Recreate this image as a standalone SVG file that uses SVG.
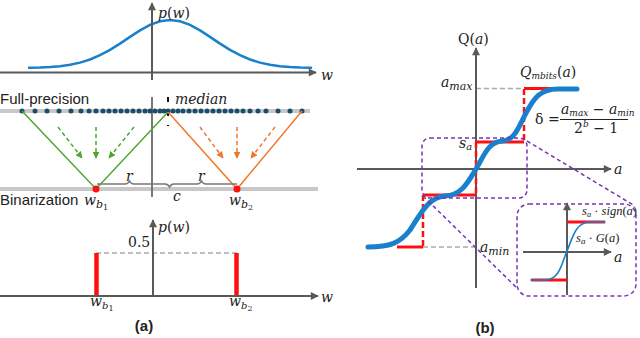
<svg xmlns="http://www.w3.org/2000/svg" width="640" height="338" viewBox="0 0 640 338">
<style>
.ax{stroke:#595959;stroke-width:2;fill:none}
.m{font-family:"DejaVu Serif",serif;fill:#222;font-size:14px}
.t{font-family:"Liberation Serif","Times New Roman",serif;fill:#222;font-size:12.5px}
.i{font-style:italic}
.sans{font-family:"Liberation Sans",Arial,sans-serif;fill:#222;font-size:15px}
.bold{font-family:"Liberation Sans",Arial,sans-serif;font-weight:bold;fill:#222;font-size:15px}
.bar{stroke:#c8c8c8;stroke-width:4}
.gd{stroke:#aaaaaa;stroke-width:1.3;stroke-dasharray:5,3;fill:none}
.red{stroke:#ff1010;stroke-width:3;fill:none}
.redd{stroke:#ff1010;stroke-width:2.5;stroke-dasharray:6,3;fill:none}
.blue{stroke:#1a80cc;fill:none;stroke-linecap:round}
.pur{stroke:#7a35b0;stroke-width:1.5;stroke-dasharray:4,3;fill:none}
.grn{stroke:#4ea72e;stroke-width:1.5;fill:none}
.org{stroke:#f0782d;stroke-width:1.5;fill:none}
.dot{fill:#1b4f69}
</style>
<defs>
<marker id="ah" viewBox="0 0 10 10" refX="9" refY="5" markerWidth="9" markerHeight="8" markerUnits="userSpaceOnUse" orient="auto"><path d="M0,0 L10,5 L0,10 z" fill="#595959"/></marker>
<marker id="ahg" viewBox="0 0 10 10" refX="9" refY="5" markerWidth="7" markerHeight="7" markerUnits="userSpaceOnUse" orient="auto"><path d="M0,0 L10,5 L0,10 z" fill="#4ea72e"/></marker>
<marker id="aho" viewBox="0 0 10 10" refX="9" refY="5" markerWidth="7" markerHeight="7" markerUnits="userSpaceOnUse" orient="auto"><path d="M0,0 L10,5 L0,10 z" fill="#f0782d"/></marker>
</defs>

<!-- Panel (a) top: Gaussian -->
<g id="top-plot">
<polyline class="blue" stroke-width="2.5" points="29,67.8 40,67.5 50,67 60,66.2 70,64.8 80,62.6 90,59.5 100,55.2 110,49.9 120,43.6 130,36.9 140,30.4 150,24.9 160,21.3 170,20 180,21.3 190,24.9 200,30.4 210,36.9 220,43.6 230,49.9 240,55.2 250,59.5 260,62.6 270,64.8 280,66.2 290,67 300,67.5 311,67.8"/>
<line class="ax" x1="0" y1="72.5" x2="316" y2="72.5" marker-end="url(#ah)"/>
<line class="ax" x1="152" y1="80" x2="152" y2="3" marker-end="url(#ah)"/>
<text class="m" x="158" y="18" font-size="15.5"><tspan class="i">p</tspan>(<tspan class="i">w</tspan>)</text>
<text class="m i" x="321" y="80" font-size="15.5">w</text>
</g>

<!-- Panel (a) middle -->
<g id="middle">
<line class="bar" x1="0" y1="111" x2="310" y2="111"/>
<line class="bar" x1="0" y1="189" x2="318" y2="189"/>
<text class="sans" x="0" y="104">Full-precision</text>
<text class="sans" x="0" y="205">Binarization</text>
<line x1="152" y1="97" x2="152" y2="197" stroke="#777" stroke-width="2"/>
<g id="dots">
<circle class="dot" cx="22" cy="111" r="2.5"/><circle class="dot" cx="35" cy="111" r="2.5"/><circle class="dot" cx="47" cy="111" r="2.5"/><circle class="dot" cx="59" cy="111" r="2.5"/><circle class="dot" cx="71" cy="111" r="2.5"/><circle class="dot" cx="81" cy="111" r="2.5"/><circle class="dot" cx="89" cy="111" r="2.5"/><circle class="dot" cx="96" cy="111" r="2.5"/><circle class="dot" cx="103" cy="111" r="2.5"/><circle class="dot" cx="109" cy="111" r="2.5"/><circle class="dot" cx="115" cy="111" r="2.5"/><circle class="dot" cx="121" cy="111" r="2.5"/><circle class="dot" cx="127" cy="111" r="2.5"/><circle class="dot" cx="133" cy="111" r="2.5"/><circle class="dot" cx="139" cy="111" r="2.5"/><circle class="dot" cx="145" cy="111" r="2.5"/><circle class="dot" cx="150" cy="111" r="2.5"/><circle class="dot" cx="155" cy="111" r="2.5"/><circle class="dot" cx="160" cy="111" r="2.5"/><circle class="dot" cx="164" cy="111" r="2.5"/><circle class="dot" cx="168" cy="111" r="2.5"/>
<circle class="dot" cx="173" cy="111" r="2.5"/><circle class="dot" cx="178" cy="111" r="2.5"/><circle class="dot" cx="183" cy="111" r="2.5"/><circle class="dot" cx="189" cy="111" r="2.5"/><circle class="dot" cx="195" cy="111" r="2.5"/><circle class="dot" cx="201" cy="111" r="2.5"/><circle class="dot" cx="207" cy="111" r="2.5"/><circle class="dot" cx="213" cy="111" r="2.5"/><circle class="dot" cx="219" cy="111" r="2.5"/><circle class="dot" cx="225" cy="111" r="2.5"/><circle class="dot" cx="231" cy="111" r="2.5"/><circle class="dot" cx="237" cy="111" r="2.5"/><circle class="dot" cx="243" cy="111" r="2.5"/><circle class="dot" cx="250" cy="111" r="2.5"/><circle class="dot" cx="258" cy="111" r="2.5"/><circle class="dot" cx="266" cy="111" r="2.5"/><circle class="dot" cx="278" cy="111" r="2.5"/><circle class="dot" cx="290" cy="111" r="2.5"/><circle class="dot" cx="302" cy="111" r="2.5"/>
</g>
<line x1="168" y1="97" x2="168" y2="126" stroke="#111" stroke-width="2" stroke-dasharray="5,9"/>
<text class="m i" x="175" y="104">median</text>
<g id="mid-connectors">
<polyline class="grn" points="22,111 96,189 168,112"/>
<polyline class="org" points="168,112 237,189 302,111"/>
<line class="grn" x1="58" y1="127" x2="82" y2="158" stroke-dasharray="4,3" marker-end="url(#ahg)"/>
<line class="grn" x1="96" y1="127" x2="96" y2="158" stroke-dasharray="4,3" marker-end="url(#ahg)"/>
<line class="grn" x1="134" y1="127" x2="109" y2="158" stroke-dasharray="4,3" marker-end="url(#ahg)"/>
<line class="org" x1="200" y1="127" x2="223" y2="158" stroke-dasharray="4,3" marker-end="url(#aho)"/>
<line class="org" x1="237" y1="127" x2="237" y2="158" stroke-dasharray="4,3" marker-end="url(#aho)"/>
<line class="org" x1="275" y1="127" x2="251" y2="158" stroke-dasharray="4,3" marker-end="url(#aho)"/>
</g>
<path d="M97,184 H125 q3,0 4.5,-3 q1.5,3 4.5,3 H165 q3,0 4.5,3 q1.5,-3 4.5,-3 H197 q3,0 4.5,-3 q1.5,3 4.5,3 H237" fill="none" stroke="#777" stroke-width="1.6"/>
<circle cx="96" cy="189" r="3.5" fill="#ff1010"/>
<circle cx="237" cy="189" r="3.5" fill="#ff1010"/>
<text class="m i" x="126" y="181">r</text>
<text class="m i" x="198" y="181">r</text>
<text class="m i" x="173" y="201">c</text>
<text class="m" x="84" y="205" font-size="15"><tspan class="i">w</tspan><tspan class="i" font-size="11" dy="3">b</tspan><tspan font-size="8" dy="2">1</tspan></text>
<text class="m" x="229" y="205" font-size="15"><tspan class="i">w</tspan><tspan class="i" font-size="11" dy="3">b</tspan><tspan font-size="8" dy="2">2</tspan></text>
</g>

<!-- Panel (a) bottom -->
<g id="bottom-plot">
<line class="gd" x1="96" y1="253" x2="237" y2="253"/>
<line x1="96.5" y1="253" x2="96.5" y2="296" stroke="#ff1010" stroke-width="4.5"/>
<line x1="236.5" y1="253" x2="236.5" y2="296" stroke="#ff1010" stroke-width="4.5"/>
<line class="ax" x1="0" y1="296" x2="318" y2="296" marker-end="url(#ah)"/>
<line class="ax" x1="153" y1="296" x2="153" y2="220" marker-end="url(#ah)"/>
<text class="m" x="158" y="232" font-size="15.5"><tspan class="i">p</tspan>(<tspan class="i">w</tspan>)</text>
<text class="m" x="128" y="247">0.5</text>
<text class="m i" x="321" y="302" font-size="15.5">w</text>
<text class="m" x="90" y="306" font-size="14"><tspan class="i">w</tspan><tspan class="i" font-size="10" dy="3">b</tspan><tspan font-size="8" dy="2">1</tspan></text>
<text class="m" x="229" y="306" font-size="14"><tspan class="i">w</tspan><tspan class="i" font-size="10" dy="3">b</tspan><tspan font-size="8" dy="2">2</tspan></text>
<text class="bold" x="144" y="331" text-anchor="middle">(a)</text>
</g>

<!-- Panel (b) -->
<g id="quant-plot">
<line class="gd" x1="476" y1="88.5" x2="524" y2="88.5"/>
<line class="gd" x1="423" y1="247" x2="476" y2="247"/>
<line class="ax" x1="357" y1="169" x2="611" y2="169" marker-end="url(#ah)"/>
<line class="ax" x1="476" y1="288" x2="476" y2="48" marker-end="url(#ah)"/>
<polyline class="red" points="524,88.5 577,88.5"/>
<line class="redd" x1="524" y1="89" x2="524" y2="142"/>
<polyline class="red" points="476,142 524,142"/>
<line class="redd" x1="476" y1="142" x2="476" y2="195"/>
<polyline class="red" points="423,195 476,195"/>
<line class="redd" x1="423" y1="195" x2="423" y2="247"/>
<polyline class="red" points="397,247 423,247"/>
<path class="blue" stroke-width="5" d="M368,247 C390,247 400,243 410,230 C420,215 428,197 445,196 C462,195 468,182 476,169 C484,156 488,142 502,141 C515,140 518,128 526,113 C534,98 540,89 558,89 L577,89"/>
<text class="m" x="458" y="44" font-size="13">Q(<tspan class="i">a</tspan>)</text>
<text class="m" x="441" y="87" font-size="16"><tspan class="i">a</tspan><tspan class="i" font-size="11" dy="3">max</tspan></text>
<text class="m" x="520" y="77" font-size="14"><tspan class="i">Q</tspan><tspan class="i" font-size="9" dy="2">mbits</tspan><tspan dy="-2">(</tspan><tspan class="i">a</tspan>)</text>
<text class="m" x="459" y="148" font-size="14"><tspan class="i">s</tspan><tspan class="i" font-size="10" dy="2">a</tspan></text>
<text class="m" x="480" y="252" font-size="16"><tspan class="i">a</tspan><tspan class="i" font-size="11" dy="3">min</tspan></text>
<text class="m" x="535" y="124" font-size="15">δ =</text>
<text class="m" x="561" y="114" font-size="13.5"><tspan class="i">a</tspan><tspan class="i" font-size="9" dy="2">max</tspan><tspan dy="-2"> − </tspan><tspan class="i">a</tspan><tspan class="i" font-size="9" dy="2">min</tspan></text>
<line x1="560" y1="119.5" x2="628" y2="119.5" stroke="#222" stroke-width="1"/>
<text class="m" x="574" y="133" font-size="14">2<tspan class="i" font-size="9" dy="-6">b</tspan><tspan dy="6"> − 1</tspan></text>
</g>

<g id="zoom-box">
<rect class="pur" x="422" y="138" width="105" height="60" rx="8"/>
</g>

<g id="connectors">
<line class="pur" x1="527" y1="141" x2="635" y2="206"/>
<line class="pur" x1="423" y1="196" x2="517" y2="288"/>
</g>

<g id="inset">
<rect class="pur" x="517" y="204" width="119" height="92" rx="12"/>
<line class="ax" x1="523" y1="252" x2="611" y2="252" marker-end="url(#ah)"/>
<line class="ax" x1="567" y1="295" x2="567" y2="203" marker-end="url(#ah)"/>
<polyline class="red" points="567,222 605,222"/>
<polyline class="red" points="531,280 567,280"/>
<path class="blue" stroke-width="1.6" d="M531,280 L545,280 C560,280 562,262 567,251 C572,240 575,222 590,222 L605,222"/>
<text class="t" x="582" y="215"><tspan class="i">s</tspan><tspan class="i" font-size="8.5" dy="2">a</tspan><tspan dy="-2"> · </tspan><tspan class="i">sign</tspan>(<tspan class="i">a</tspan>)</text>
<text class="t" x="576" y="242" font-size="13"><tspan class="i">s</tspan><tspan class="i" font-size="9" dy="2">a</tspan><tspan dy="-2"> · </tspan><tspan class="i">G</tspan>(<tspan class="i">a</tspan>)</text>
<text class="m i" x="614" y="262" font-size="12">a</text>
</g>
<text class="m i" x="614" y="174" font-size="15">a</text>
<text class="bold" x="485" y="333" text-anchor="middle">(b)</text>
</svg>
